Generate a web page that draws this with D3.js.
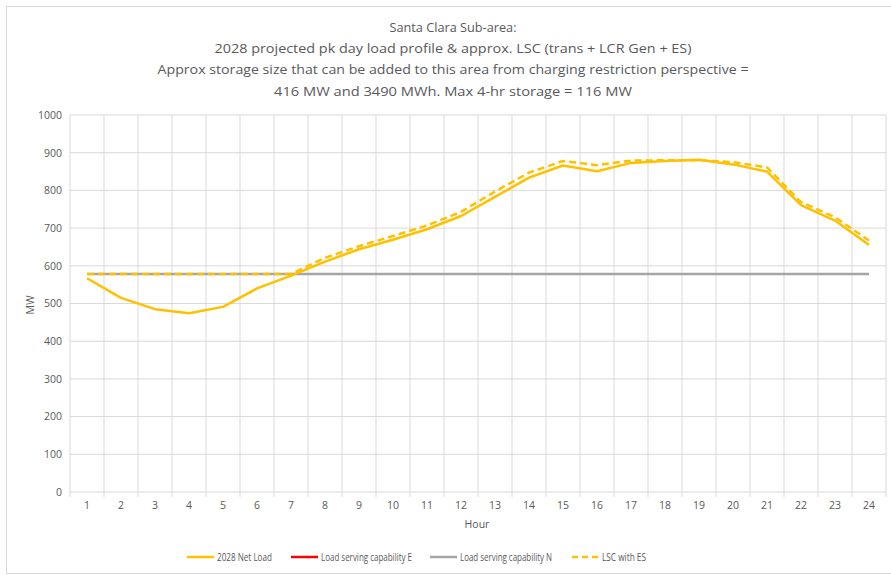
<!DOCTYPE html>
<html><head><meta charset="utf-8">
<script src="https://cdn.jsdelivr.net/npm/d3@7"></script>
<style>body{margin:0;background:#fff}svg{display:block}text{font-family:"Open Sans",Arial,sans-serif;fill:#595959}</style>
</head><body><div id="chart"></div>
<script>
const hours = d3.range(1, 25);
const netLoad = [567,515,485,474,491,540,574,611,644,669,697,732,783,834,866,851,873,878,881,869,850,761,720,655];
const lscE = Array(24).fill(578);
const lscN = Array(24).fill(578);
const lscES = [578,578,578,578,578,578,578,621,652,679,707,743,797,847,878,867,879,880,880,875,861,769,729,667];
const yTicks = [0,100,200,300,400,500,600,700,800,900,1000];
const titleLines = ["Santa Clara Sub-area:","2028 projected pk day load profile & approx. LSC (trans + LCR Gen + ES)","Approx storage size that can be added to this area from charging restriction perspective =","416 MW and 3490 MWh. Max 4-hr storage = 116 MW"];
const titleWidths = [127, 477, 591, 358];
const legendItems = [
  {name:"2028 Net Load", color:"#FFC000", dash:null, w:55},
  {name:"Load serving capability E", color:"#FF0000", dash:null, w:91},
  {name:"Load serving capability N", color:"#A5A5A5", dash:null, w:92},
  {name:"LSC with ES", color:"#FFC000", dash:"6,4", w:44}
];

const W = 891, H = 575;
const svg = d3.select("#chart").append("svg").attr("width", W).attr("height", H);
svg.append("rect").attr("x",6.5).attr("y",6.5).attr("width",W).attr("height",567).attr("fill","none").attr("stroke","#D9D9D9");

const x = d3.scaleBand().domain(hours).range([70, 886]).padding(0);
const y = d3.scaleLinear().domain([0, 1000]).range([492, 115]);

// gridlines
const g = svg.append("g");
g.selectAll(".hg").data(yTicks).join("line")
  .attr("x1",70).attr("x2",886).attr("y1",d=>y(d)).attr("y2",d=>y(d))
  .attr("stroke","#D9D9D9").attr("stroke-width",1);
const bounds = hours.map(h=>x(h)).concat([x(24)+x.bandwidth()]);
g.selectAll(".vg").data(bounds).join("line")
  .attr("x1",d=>d).attr("x2",d=>d).attr("y1",y(1000)).attr("y2",y(0)+5)
  .attr("stroke","#D9D9D9").attr("stroke-width",1);

// axes labels
const yAxis = d3.axisLeft(y).tickValues(yTicks).tickFormat(d3.format("d")).tickSize(0).tickPadding(8);
const ya = svg.append("g").attr("transform","translate(70,0)").call(yAxis);
ya.select(".domain").remove();
ya.selectAll("text").style("fill","#595959").style("font-family","'Open Sans',sans-serif").style("font-size","10.5px");
const xAxis = d3.axisBottom(x).tickSize(0).tickPadding(10);
const xa = svg.append("g").attr("transform","translate(0,492)").call(xAxis);
xa.select(".domain").remove();
xa.selectAll("text").style("fill","#595959").style("font-family","'Open Sans',sans-serif").style("font-size","10.5px");

svg.append("text").attr("transform","translate(34,305) rotate(-90)").attr("text-anchor","middle")
  .style("font-family","'Open Sans',sans-serif").style("font-size","10.5px").text("MW");
svg.append("text").attr("x",477).attr("y",528).attr("text-anchor","middle")
  .style("font-family","'Open Sans',sans-serif").style("font-size","10.5px").text("Hour");

// title
svg.append("g").selectAll("text").data(titleLines).join("text")
  .attr("x",453).attr("y",(d,i)=>32+i*21.2).attr("text-anchor","middle")
  .style("font-family","'Open Sans',sans-serif").style("font-size","13.5px")
  .attr("textLength",(d,i)=>titleWidths[i]).attr("lengthAdjust","spacingAndGlyphs")
  .text(d=>d);

// lines
const cx = h => x(h) + x.bandwidth()/2;
const line = d3.line().x((d,i)=>cx(hours[i])).y(d=>y(d));
svg.append("path").datum(lscE).attr("d",line).attr("fill","none").attr("stroke","#FF0000").attr("stroke-width",2);
svg.append("path").datum(lscN).attr("d",line).attr("fill","none").attr("stroke","#A5A5A5").attr("stroke-width",2.5);
svg.append("path").datum(netLoad).attr("d",line).attr("fill","none").attr("stroke","#FFC000").attr("stroke-width",2.5).attr("stroke-linejoin","round");
svg.append("path").datum(lscES).attr("d",line).attr("fill","none").attr("stroke","#FFC000").attr("stroke-width",2.5).attr("stroke-dasharray","7,4").attr("stroke-linejoin","round");

// legend
const legX = [187, 291, 430, 572];
const lg = svg.append("g").selectAll("g").data(legendItems).join("g")
  .attr("transform",(d,i)=>`translate(${legX[i]},557)`);
lg.append("line").attr("x1",0).attr("x2",27).attr("y1",0).attr("y2",0)
  .attr("stroke",d=>d.color).attr("stroke-width",2.5).attr("stroke-dasharray",d=>d.dash);
lg.append("text").attr("x",30).attr("y",4).style("font-family","'Open Sans',sans-serif").style("font-size","11px")
  .attr("textLength",d=>d.w).attr("lengthAdjust","spacingAndGlyphs").text(d=>d.name);
</script></body></html>
